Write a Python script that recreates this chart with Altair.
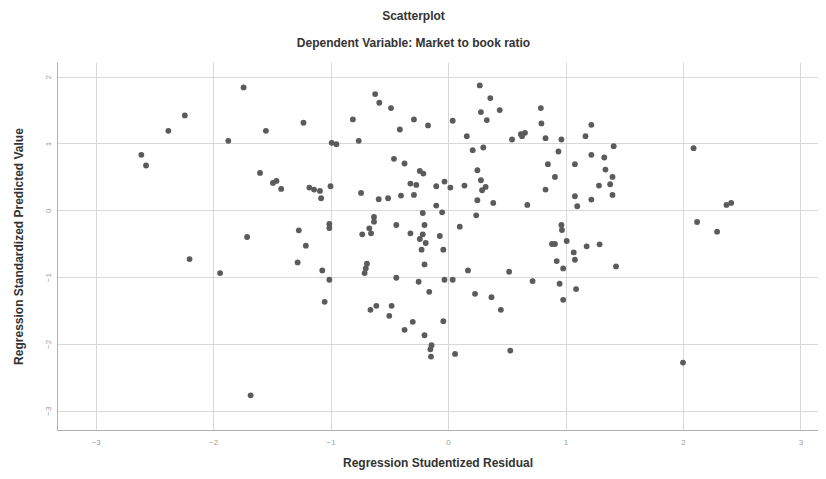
import altair as alt
import pandas as pd

# Regression Studentized Residual (x) and Regression Standardized Predicted Value (y)
resid = [
    -1.74, -2.24, -2.38, -2.61, -2.57, -1.87, -1.55, -1.23, -1.60, -1.49,
    -1.46, -1.42, -1.18, -1.14, -1.09, -1.08, -1.27, -1.71, -2.20, -1.94,
    -1.21, -1.28, -1.68, -1.07, -1.05,
    -0.62, -0.585, -0.485, -0.81, -0.29, -0.41, -0.17, 0.04, -0.99, -0.95,
    -0.76, -0.46, -0.37, -0.24, -0.21, -0.32, -0.27, -0.10, -0.03, 0.02,
    -1.00, -0.74, -0.59, -0.51, -0.40, -0.29, -0.10, -0.05, -0.215, -0.63,
    -0.63, -0.67, -0.73, -0.655, -1.01, -1.01, -1.01, -0.44, -0.32, -0.20,
    -0.215, -0.24, -0.19, -0.225, -0.07, -0.04, 0.10, -0.20, -0.69, -0.70,
    -0.71, -0.44, -0.25, -0.16, -0.03, 0.04, -0.66, -0.61, -0.48, -0.50,
    -0.37, -0.30, -0.20, -0.14, -0.15, -0.145, -0.04, 0.06,
    0.27, 0.36, 0.28, 0.44, 0.33, 0.16, 0.545, 0.62, 0.655, 0.63,
    0.79, 0.795, 0.83, 0.965, 1.22, 1.17, 1.41, 0.21, 0.30, 0.94,
    1.22, 1.33, 0.25, 0.85, 1.08, 1.34, 0.28, 0.91, 1.40, 1.38,
    0.14, 0.32, 0.29, 1.285, 0.83, 0.25, 0.385, 0.675, 1.08, 1.10,
    1.22, 1.40, 0.24, 0.965, 0.97, 0.885, 0.91, 1.01, 1.18, 1.29,
    1.07, 1.08, 0.925, 0.98, 1.43, 0.17, 0.52, 0.72, 0.95, 1.09,
    0.98, 0.23, 0.37, 0.45, 0.53, 2.09, 2.37, 2.41, 2.12, 2.29, 2.00,
]
predicted = [
    1.84, 1.42, 1.19, 0.83, 0.67, 1.04, 1.19, 1.31, 0.56, 0.41,
    0.44, 0.32, 0.34, 0.31, 0.29, 0.18, -0.30, -0.40, -0.73, -0.94,
    -0.53, -0.78, -2.77, -0.90, -1.37,
    1.74, 1.61, 1.53, 1.36, 1.36, 1.21, 1.27, 1.34, 1.01, 0.99,
    1.04, 0.77, 0.70, 0.59, 0.55, 0.40, 0.38, 0.36, 0.43, 0.34,
    0.36, 0.26, 0.165, 0.18, 0.22, 0.23, 0.07, -0.03, -0.04, -0.10,
    -0.17, -0.27, -0.36, -0.345, -0.205, -0.265, -1.04, -0.22, -0.345, -0.22,
    -0.36, -0.43, -0.49, -0.59, -0.385, -0.59, -0.245, -0.81, -0.80, -0.87,
    -0.94, -1.01, -1.07, -1.22, -1.04, -1.04, -1.49, -1.43, -1.43, -1.58,
    -1.79, -1.67, -1.87, -2.02, -2.08, -2.19, -1.66, -2.15,
    1.87, 1.68, 1.47, 1.50, 1.35, 1.11, 1.06, 1.14, 1.16, 1.11,
    1.53, 1.30, 1.08, 1.06, 1.28, 1.11, 0.96, 0.90, 0.94, 0.88,
    0.83, 0.79, 0.60, 0.69, 0.69, 0.61, 0.45, 0.50, 0.50, 0.39,
    0.37, 0.35, 0.30, 0.37, 0.31, 0.15, 0.11, 0.08, 0.21, 0.06,
    0.16, 0.23, -0.075, -0.22, -0.295, -0.505, -0.505, -0.46, -0.54, -0.51,
    -0.63, -0.74, -0.76, -0.87, -0.84, -0.90, -0.92, -1.06, -1.10, -1.18,
    -1.34, -1.25, -1.30, -1.49, -2.10, 0.93, 0.08, 0.11, -0.175, -0.32, -2.28,
]
tick_values = [-3, -2, -1, 0, 1, 2, 3]

df = pd.DataFrame({"resid": resid, "pred": predicted})

FONT = "Liberation Sans"

chart = (
    alt.Chart(df)
    .mark_circle(size=34, color="#5b5b5b", opacity=1)
    .encode(
        x=alt.X(
            "resid:Q",
            title="Regression Studentized Residual",
            scale=alt.Scale(domain=[-3.328, 3.149], nice=False, zero=False),
            axis=alt.Axis(
                values=tick_values,
                format="d",
                ticks=False,
                labelPadding=8,
                labelFontSize=8,
                labelColor="#a0a0a0",
                titleFontSize=12,
                titleFontWeight="bold",
                titleColor="#333333",
                titlePadding=11,
                domainColor="#b0b0b0",
                gridColor="#d8d8d8",
                gridWidth=1,
            ),
        ),
        y=alt.Y(
            "pred:Q",
            title="Regression Standardized Predicted Value",
            scale=alt.Scale(domain=[-3.289, 2.220], nice=False, zero=False),
            axis=alt.Axis(
                values=tick_values,
                format="d",
                ticks=False,
                labelAngle=270,
                labelAlign="center",
                labelBaseline="bottom",
                labelPadding=5,
                labelFontSize=8,
                labelColor="#a0a0a0",
                titleFontSize=12,
                titleFontWeight="bold",
                titleColor="#333333",
                titlePadding=19,
                domainColor="#b0b0b0",
                gridColor="#d8d8d8",
                gridWidth=1,
            ),
        ),
    )
    .properties(
        width=761,
        height=368,
        padding={"left": 49, "top": 54, "right": 0, "bottom": 41},
        autosize=alt.AutoSizeParams(type="none"),
        title=alt.TitleParams(
            text="Scatterplot",
            subtitle="Dependent Variable: Market to book ratio",
            anchor="middle",
            dx=-24,
            fontSize=12,
            fontWeight="bold",
            color="#333333",
            subtitleFontSize=12,
            subtitleFontWeight="bold",
            subtitleColor="#333333",
            subtitlePadding=15,
            offset=12,
            font=FONT,
            subtitleFont=FONT,
        ),
    )
    .configure(font=FONT)
    .configure_view(stroke=None)
    .configure_axis(labelFont=FONT, titleFont=FONT)
)

chart.save("out.html", embed_options={"renderer": "svg", "actions": False})
